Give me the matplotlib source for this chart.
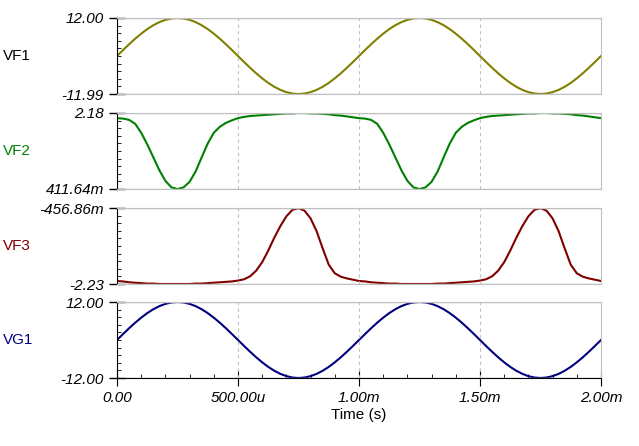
import matplotlib
matplotlib.use("Agg")
import matplotlib.pyplot as plt

plt.rcParams['font.family'] = ['Liberation Sans', 'DejaVu Sans']

t_ms = [i * 0.025 for i in range(81)]
quarter = [0, 1.88, 3.71, 5.45, 7.05, 8.49, 9.71, 10.69, 11.41, 11.85, 12.0,
           11.85, 11.41, 10.69, 9.71, 8.49, 7.05, 5.45, 3.71, 1.88]
vg1 = quarter + [-v for v in quarter] + quarter + [-v for v in quarter] + [0.0]
vf1 = list(vg1)
vf2_cycle = [2.06, 2.05, 2.02, 1.93, 1.72, 1.45, 1.15, 0.85, 0.60, 0.45,
             0.41, 0.45, 0.58, 0.82, 1.15, 1.47, 1.72, 1.86, 1.95, 2.01,
             2.06, 2.09, 2.11, 2.12, 2.13, 2.14, 2.15, 2.16, 2.17, 2.17,
             2.18, 2.18, 2.17, 2.17, 2.16, 2.15, 2.13, 2.12, 2.10, 2.08]
vf2 = vf2_cycle + vf2_cycle + [2.06]
vf3_cycle = [-2.16, -2.17, -2.19, -2.20, -2.21, -2.22, -2.22, -2.23, -2.23, -2.23,
             -2.23, -2.23, -2.23, -2.22, -2.22, -2.21, -2.20, -2.19, -2.18, -2.17,
             -2.15, -2.12, -2.05, -1.92, -1.72, -1.45, -1.15, -0.88, -0.65, -0.50,
             -0.46, -0.52, -0.70, -1.00, -1.40, -1.78, -1.98, -2.06, -2.10, -2.13]
vf3 = vf3_cycle + vf3_cycle + [-2.16]

series = [
    ("VF1", vf1, "#808000", "black", (-11.99, 12.0), ["-11.99", "12.00"]),
    ("VF2", vf2, "#008000", "#008000", (0.41164, 2.18), ["411.64m", "2.18"]),
    ("VF3", vf3, "#800000", "#800000", (-2.23, -0.45686), ["-2.23", "-456.86m"]),
    ("VG1", vg1, "#000080", "#000080", (-12.0, 12.0), ["-12.00", "12.00"]),
]
xticks = [0, 0.5, 1.0, 1.5, 2.0]
xlabels = ["0.00", "500.00u", "1.00m", "1.50m", "2.00m"]

W, H = 639, 446
fig = plt.figure(figsize=(W / 100, H / 100), dpi=100)
tops = [18, 113, 208, 302]
ph = 76
x0, x1 = 117, 601
for i, (name, y, lc, tc, (lo, hi), yl) in enumerate(series):
    ax = fig.add_axes([x0 / W, 1 - (tops[i] + ph) / H, (x1 - x0) / W, ph / H])
    ax.plot(t_ms, y, color=lc, lw=1.5)
    ax.set_xlim(0, 2)
    ax.set_ylim(lo, hi)
    for s in ['top', 'right', 'bottom']:
        ax.spines[s].set_color('#c0c0c0')
    ax.spines['left'].set_color('black')
    ax.set_yticks([lo, hi])
    ax.set_yticklabels(yl, fontsize=11, style='italic')
    ax.yaxis.set_minor_locator(matplotlib.ticker.LinearLocator(11))
    ax.tick_params(axis='y', which='major', direction='inout', length=12, width=1)
    ax.tick_params(axis='y', which='minor', direction='in', length=3)
    for xv in xticks[1:-1]:
        ax.axvline(xv, color='#c0c0c0', ls=(0, (3, 3)), lw=0.8)
    for yv in [lo, hi]:
        ax.axhline(yv, color='#c0c0c0', lw=1)
    ax.text(-0.235, 0.5, name, transform=ax.transAxes, fontsize=11, color=tc,
            va='center', ha='left')
    ax.set_xticks(xticks)
    if i == 3:
        ax.spines['bottom'].set_color('black')
        ax.set_xticklabels(xlabels, fontsize=11, style='italic')
        ax.xaxis.set_minor_locator(matplotlib.ticker.MultipleLocator(0.1))
        ax.tick_params(axis='x', which='major', direction='inout', length=12)
        ax.tick_params(axis='x', which='minor', direction='in', length=3)
        ax.set_xlabel("Time (s)", fontsize=11, labelpad=2)
    else:
        ax.tick_params(axis='x', which='both', length=0, labelbottom=False)

fig.savefig("out.png", dpi=100)
